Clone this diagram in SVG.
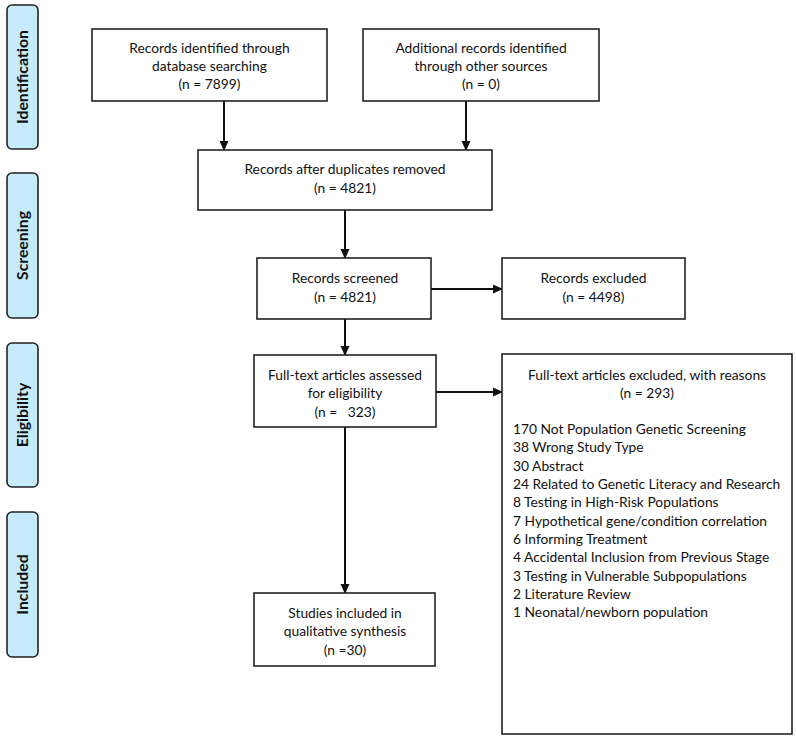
<svg xmlns="http://www.w3.org/2000/svg" width="796" height="737" viewBox="0 0 796 737">
<style>
.box{fill:#fff;stroke:#222;stroke-width:1.6}
.side{fill:#c6ebfa;stroke:#222;stroke-width:1.6}
.t{font-family:"Lato","Liberation Sans",sans-serif;font-size:13.8px;fill:#111;text-anchor:middle;white-space:pre}
.l{font-family:"Lato","Liberation Sans",sans-serif;font-size:13.8px;fill:#111}
.s{font-family:"Lato","Liberation Sans",sans-serif;font-size:15.8px;font-weight:bold;fill:#111;text-anchor:middle}
.c{stroke:#111;stroke-width:2;fill:none;marker-end:url(#ah)}
</style>
<defs>
<marker id="ah" markerWidth="10" markerHeight="10" refX="9" refY="5" orient="auto" markerUnits="userSpaceOnUse">
<path d="M0,0.5 L10,5 L0,9.5 Z" fill="#111"/>
</marker>
</defs>
<rect width="796" height="737" fill="#fff"/>
<g id="phase-identification"><rect class="side" x="7" y="5" width="31" height="144" rx="5"/><text class="s" transform="translate(28,77) rotate(-90)">Identification</text></g>
<g id="phase-screening"><rect class="side" x="7" y="173" width="31" height="145" rx="5"/><text class="s" transform="translate(28,245.5) rotate(-90)">Screening</text></g>
<g id="phase-eligibility"><rect class="side" x="7" y="343" width="31" height="144" rx="5"/><text class="s" transform="translate(28,415) rotate(-90)">Eligibility</text></g>
<g id="phase-included"><rect class="side" x="7" y="512" width="31" height="145" rx="5"/><text class="s" transform="translate(28,584.5) rotate(-90)">Included</text></g>
<g id="connectors">
<line class="c" x1="224" y1="101" x2="224" y2="150"/>
<line class="c" x1="466" y1="101" x2="466" y2="150"/>
<line class="c" x1="345" y1="210" x2="345" y2="258"/>
<line class="c" x1="431" y1="289" x2="502" y2="289"/>
<line class="c" x1="345" y1="319" x2="345" y2="355"/>
<line class="c" x1="436" y1="392" x2="502" y2="392"/>
<line class="c" x1="345" y1="427" x2="345" y2="593"/>
</g>
<g id="n1"><rect class="box" x="92" y="29" width="235" height="72"/><text class="t" x="209.5" y="53">Records identified through</text><text class="t" x="209.5" y="71">database searching</text><text class="t" x="209.5" y="89">(n = 7899)</text></g>
<g id="n2"><rect class="box" x="363" y="29" width="236" height="72"/><text class="t" x="481" y="53">Additional records identified</text><text class="t" x="481" y="71">through other sources</text><text class="t" x="481" y="89">(n = 0)</text></g>
<g id="n3"><rect class="box" x="198" y="150" width="294" height="60"/><text class="t" x="345" y="174">Records after duplicates removed</text><text class="t" x="345" y="193">(n = 4821)</text></g>
<g id="n4"><rect class="box" x="257" y="258" width="174" height="61"/><text class="t" x="345" y="283">Records screened</text><text class="t" x="345" y="302">(n = 4821)</text></g>
<g id="n5"><rect class="box" x="502" y="258" width="183" height="61"/><text class="t" x="593.5" y="283">Records excluded</text><text class="t" x="593.5" y="302">(n = 4498)</text></g>
<g id="n6"><rect class="box" x="254" y="355" width="182" height="72"/><text class="t" x="345" y="380">Full-text articles assessed</text><text class="t" x="345" y="398">for eligibility</text><text class="t" x="345" y="417" xml:space="preserve">(n =   323)</text></g>
<g id="n7"><rect class="box" x="502" y="354" width="290" height="380"/>
<text class="t" x="647" y="380">Full-text articles excluded, with reasons</text><text class="t" x="647" y="398">(n = 293)</text>
<text class="l" x="513" y="434">170 Not Population Genetic Screening</text>
<text class="l" x="513" y="452">38 Wrong Study Type</text>
<text class="l" x="513" y="470.5">30 Abstract</text>
<text class="l" x="513" y="489">24 Related to Genetic Literacy and Research</text>
<text class="l" x="513" y="507">8 Testing in High-Risk Populations</text>
<text class="l" x="513" y="525.5">7 Hypothetical gene/condition correlation</text>
<text class="l" x="513" y="544">6 Informing Treatment</text>
<text class="l" x="513" y="562">4 Accidental Inclusion from Previous Stage</text>
<text class="l" x="513" y="580.5">3 Testing in Vulnerable Subpopulations</text>
<text class="l" x="513" y="599">2 Literature Review</text>
<text class="l" x="513" y="617">1 Neonatal/newborn population</text>
</g>
<g id="n8"><rect class="box" x="254" y="593" width="181" height="73"/><text class="t" x="345" y="618">Studies included in</text><text class="t" x="345" y="636">qualitative synthesis</text><text class="t" x="345" y="655">(n =30)</text></g>
</svg>
